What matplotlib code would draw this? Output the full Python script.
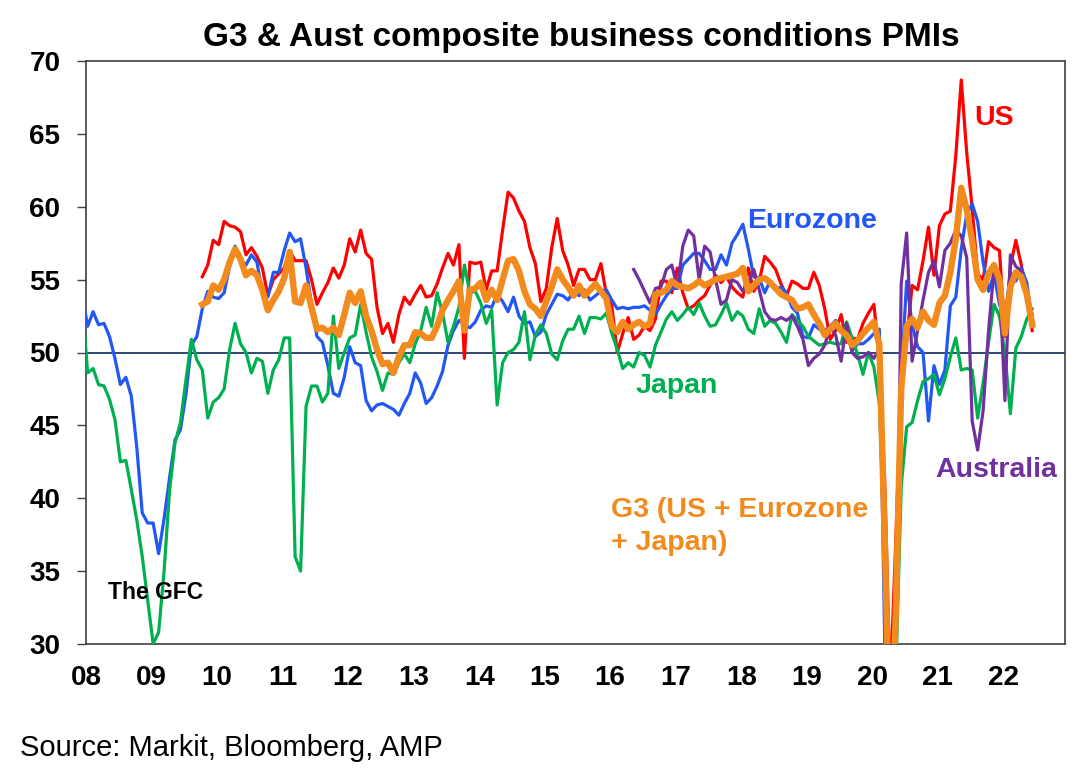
import numpy as np
import matplotlib
matplotlib.use("Agg")
import matplotlib.pyplot as plt

plt.rcParams['font.family'] = ['Liberation Sans', 'DejaVu Sans']

# monthly composite PMIs, Dec 2007 .. Jun 2022 (None = series not started yet)
eurozone = [
    54.0,
    51.8, 52.8, 51.9, 52.0, 51.1, 49.6, 47.8, 48.3, 47.0, 43.5, 39.0, 38.3,  # 2008
    38.3, 36.2, 38.6, 41.4, 44.0, 44.7, 47.1, 50.5, 51.1, 53.0, 54.2, 53.8,  # 2009
    53.7, 54.1, 55.9, 57.3, 56.4, 56.0, 56.7, 56.2, 54.1, 53.8, 55.5, 55.5,  # 2010
    57.0, 58.2, 57.6, 57.8, 55.8, 53.3, 51.1, 50.7, 49.1, 47.2, 47.0, 48.3,  # 2011
    50.4, 49.3, 49.1, 46.7, 46.0, 46.4, 46.5, 46.3, 46.1, 45.7, 46.5, 47.2,  # 2012
    48.6, 47.9, 46.5, 46.9, 47.7, 48.7, 50.5, 51.5, 52.2, 51.9, 51.7, 52.1,  # 2013
    52.9, 53.2, 53.1, 54.0, 53.5, 52.8, 53.8, 52.5, 52.0, 52.1, 51.1, 51.4,  # 2014
    52.6, 53.3, 54.0, 53.9, 53.6, 54.2, 53.9, 54.3, 53.6, 53.9, 54.2, 54.3,  # 2015
    53.6, 53.0, 53.1, 53.0, 53.1, 53.1, 53.2, 52.9, 52.6, 53.3, 53.9, 54.4,  # 2016
    54.4, 56.0, 56.4, 56.8, 56.8, 56.3, 55.7, 55.7, 56.7, 56.0, 57.5, 58.1,  # 2017
    58.8, 57.1, 55.2, 55.1, 54.1, 54.9, 54.3, 54.5, 54.1, 53.1, 52.7, 51.1,  # 2018
    51.0, 51.9, 51.6, 51.5, 51.8, 52.2, 51.5, 51.9, 50.1, 50.6, 50.6, 50.9,  # 2019
    51.3, 51.6, 29.7, 13.6, 31.9, 48.5, 54.9, 51.9, 50.4, 50.0, 45.3, 49.1,  # 2020
    47.8, 48.8, 53.2, 53.8, 57.1, 59.5, 60.2, 59.0, 56.2, 54.2, 55.4, 53.3,  # 2021
    52.3, 55.5, 54.9, 55.8, 54.8, 52.0,                                      # 2022
]

japan = [
    53.5,
    48.6, 48.9, 47.8, 47.7, 46.8, 45.4, 42.5, 42.6, 40.6, 38.5, 36.0, 33.0,  # 2008
    30.0, 30.8, 35.0, 40.5, 43.8, 45.2, 48.1, 50.9, 49.5, 48.8, 45.5, 46.6,  # 2009
    46.9, 47.5, 50.2, 52.0, 50.6, 50.0, 48.6, 49.6, 49.4, 47.2, 48.8, 49.5,  # 2010
    51.0, 51.0, 36.0, 35.0, 46.3, 47.7, 47.7, 46.6, 47.2, 52.5, 48.9, 50.0,  # 2011
    51.0, 51.2, 53.3, 51.4, 49.7, 48.7, 47.4, 48.6, 48.5, 49.3, 49.9, 49.3,  # 2012
    50.6, 51.5, 53.1, 51.8, 54.1, 52.7, 50.7, 51.8, 53.1, 56.0, 54.1, 54.2,  # 2013
    53.4, 52.0, 52.9, 46.4, 49.3, 50.0, 50.2, 50.7, 52.8, 49.5, 51.2, 51.9,  # 2014
    51.3, 49.9, 49.5, 50.8, 51.6, 51.6, 52.5, 51.3, 52.4, 52.4, 52.3, 52.7,  # 2015
    51.3, 50.2, 48.9, 49.3, 49.0, 50.0, 49.8, 49.0, 50.5, 51.4, 52.3, 52.8,  # 2016
    52.2, 52.6, 53.1, 52.6, 53.4, 52.5, 51.8, 51.9, 52.6, 53.4, 52.2, 52.8,  # 2017
    52.5, 51.6, 51.3, 53.0, 51.8, 52.2, 52.0, 51.4, 50.7, 52.6, 52.2, 51.8,  # 2018
    51.1, 50.8, 50.5, 50.6, 50.7, 50.6, 50.6, 52.1, 51.0, 49.9, 48.5, 50.0,  # 2019
    49.0, 46.5, 36.2, 25.8, 27.8, 40.8, 44.9, 45.2, 46.7, 48.0, 48.2, 48.5,  # 2020
    47.1, 48.2, 49.7, 51.0, 48.8, 48.9, 48.8, 45.5, 47.9, 50.7, 53.3, 52.5,  # 2021
    49.9, 45.8, 50.3, 51.1, 52.3, 53.0,                                      # 2022
]

us = [None] * 13 + [None] * 9 + [
    55.2, 56.0, 57.7,                                                        # 2009
    57.4, 59.0, 58.7, 58.6, 58.3, 56.7, 57.2, 56.6, 55.8, 53.9, 55.0, 55.4,  # 2010
    55.8, 57.0, 56.3, 56.3, 56.3, 55.0, 53.3, 54.1, 54.8, 55.8, 55.1, 56.0,  # 2011
    57.8, 56.9, 58.4, 56.8, 56.4, 53.1, 51.3, 52.0, 50.7, 52.6, 53.8, 53.3,  # 2012
    54.0, 54.6, 53.8, 53.9, 54.7, 55.8, 56.8, 56.0, 57.4, 49.6, 56.2, 56.1,  # 2013
    56.2, 54.3, 55.6, 55.6, 58.4, 61.0, 60.6, 59.7, 59.0, 57.2, 56.1, 53.5,  # 2014
    54.4, 57.2, 59.2, 57.0, 56.0, 54.6, 55.7, 55.7, 55.0, 55.0, 56.1, 54.0,  # 2015
    53.2, 50.0, 51.3, 52.4, 50.9, 51.2, 51.8, 51.5, 52.3, 54.9, 54.9, 54.1,  # 2016
    55.8, 54.1, 53.0, 53.2, 53.6, 53.9, 54.6, 55.3, 54.8, 55.2, 54.5, 54.1,  # 2017
    53.8, 55.8, 54.2, 54.9, 56.6, 56.2, 55.7, 54.7, 53.9, 54.9, 54.7, 54.4,  # 2018
    54.4, 55.5, 54.6, 53.0, 50.9, 51.5, 52.6, 50.7, 51.0, 50.9, 52.0, 52.7,  # 2019
    53.3, 49.6, 40.9, 27.0, 37.0, 47.9, 50.8, 54.6, 54.3, 56.3, 58.6, 55.3,  # 2020
    58.7, 59.5, 59.7, 63.5, 68.7, 63.7, 59.9, 55.4, 55.0, 57.6, 57.2, 57.0,  # 2021
    51.1, 55.9, 57.7, 56.0, 53.6, 51.5,                                      # 2022
]

g3 = [None] * 13 + [None] * 9 + [
    53.3, 53.5, 54.6,                                                        # 2009
    54.3, 55.0, 56.2, 57.1, 56.4, 55.3, 55.6, 55.3, 54.3, 52.9, 53.6, 54.2,  # 2010
    55.1, 56.9, 53.5, 53.4, 54.6, 53.1, 51.6, 51.7, 51.4, 51.7, 51.2, 52.6,  # 2011
    54.1, 53.4, 54.2, 52.5, 51.5, 50.2, 49.2, 49.3, 48.6, 49.7, 50.5, 50.5,  # 2012
    51.4, 51.3, 51.0, 51.0, 51.8, 52.9, 53.6, 54.2, 54.9, 51.5, 54.3, 54.4,  # 2013
    54.8, 53.6, 54.3, 53.6, 55.0, 56.3, 56.4, 55.6, 54.2, 53.3, 53.0, 52.5,  # 2014
    53.5, 54.5, 55.7, 55.0, 54.5, 53.9, 54.6, 53.9, 54.3, 54.7, 54.2, 53.7,  # 2015
    51.8, 51.4, 52.1, 51.6, 51.9, 52.1, 51.8, 52.0, 54.0, 54.1, 54.3, 54.9,  # 2016
    54.6, 54.5, 54.4, 54.6, 54.9, 54.6, 54.8, 55.0, 55.1, 55.2, 55.3, 55.4,  # 2017
    55.8, 54.2, 54.6, 55.0, 55.1, 54.8, 54.4, 54.0, 53.8, 53.6, 53.0, 53.1,  # 2018
    53.3, 52.6, 52.0, 51.2, 51.6, 52.0, 51.5, 51.2, 50.5, 50.8, 51.3, 51.7,  # 2019
    52.1, 50.5, 37.0, 22.0, 32.0, 47.5, 51.8, 52.3, 51.7, 52.8, 52.2, 51.9,  # 2020
    53.4, 53.9, 55.5, 57.8, 61.3, 59.8, 57.7, 55.0, 54.3, 55.4, 56.0, 55.0,  # 2021
    51.3, 54.5, 55.5, 55.2, 54.0, 51.9,                                      # 2022
]

australia = [None] * 13 + [None] * (12 * 7) + [None] * 4 + [
    55.7, 55.0, 54.2, 53.4, 54.4, 54.5, 55.7, 56.0,                          # 2016
    54.4, 57.3, 58.4, 58.0, 55.0, 57.3, 56.9, 55.0, 53.3, 53.6, 55.0, 54.8,  # 2017
    54.2, 54.8, 55.7, 54.3, 52.8, 52.3, 52.2, 52.4, 52.2, 52.5, 51.8, 50.9,  # 2018
    49.1, 49.6, 49.9, 50.5, 51.8, 51.2, 49.4, 52.0, 50.0, 49.6, 49.7, 50.0,  # 2019
    49.6, 50.2, 39.4, 21.7, 28.1, 54.7, 58.2, 49.4, 51.5, 53.6, 55.5, 56.3,  # 2020
    54.5, 57.0, 57.5, 58.4, 58.0, 56.5, 45.3, 43.3, 46.0, 51.5, 55.7, 55.0,  # 2021
    46.7, 56.7, 55.9, 55.6, 54.0, 52.6,                                      # 2022
]

year_labels = ['08', '09', '10', '11', '12', '13', '14', '15',
               '16', '17', '18', '19', '20', '21', '22']

# months since Jan 2008 (first value is Dec 2007)
months = np.arange(-1, len(eurozone) - 1) + 0.3

W, H = 1084, 772
fig = plt.figure(figsize=(W / 100, H / 100), dpi=100)
ax = fig.add_axes([86 / W, 1 - 644 / H, (1065 - 86) / W, (644 - 61) / H])

ax.axhline(50, color='#1F3864', lw=1.3, zorder=1)

series = [
    (us, '#FF0000', 2.3),
    (eurozone, '#2357F5', 2.3),
    (japan, '#00B050', 2.3),
    (australia, '#7030A0', 2.3),
    (g3, '#F28A1E', 4.6),
]
for vals, col, lw in series:
    ax.plot(months, np.array(vals, dtype=float), color=col, lw=lw,
            solid_joinstyle='round', zorder=3)

ax.set_xlim(0, 179.3)
ax.set_ylim(30, 70)
ax.set_yticks(range(30, 71, 5))
ax.set_xticks(np.arange(0, 12 * len(year_labels), 12))
ax.set_xticklabels(year_labels)
ax.tick_params(axis='x', length=0, pad=15, labelsize=20)
ax.tick_params(axis='y', length=6.5, width=1, pad=12, labelsize=20, color='#404040')
for lab in ax.get_xticklabels() + ax.get_yticklabels():
    lab.set_fontweight('bold')
for sp in ax.spines.values():
    sp.set_color('#404040')
    sp.set_linewidth(1.2)


def label(x, y, s, color, size=20.5):
    fig.text(x / W, 1 - y / H, s, color=color, fontsize=size,
             fontweight='bold', ha='left', va='baseline')


fig.text(581 / W, 1 - 46 / H, 'G3 & Aust composite business conditions PMIs',
         fontsize=24, fontweight='bold', ha='center', va='baseline')
label(974, 125, 'US', '#FF0000')
label(747, 228, 'Eurozone', '#2357F5')
label(636, 393, 'Japan', '#00B050')
label(935, 477, 'Australia', '#7030A0')
label(611, 517, 'G3 (US + Eurozone', '#F28A1E')
label(611, 550, '+ Japan)', '#F28A1E')
label(108, 599, 'The GFC', 'black', size=16.5)
fig.text(20 / W, 1 - 756 / H, 'Source: Markit, Bloomberg, AMP', fontsize=21,
         ha='left', va='baseline')

fig.savefig('out.png', dpi=100)
